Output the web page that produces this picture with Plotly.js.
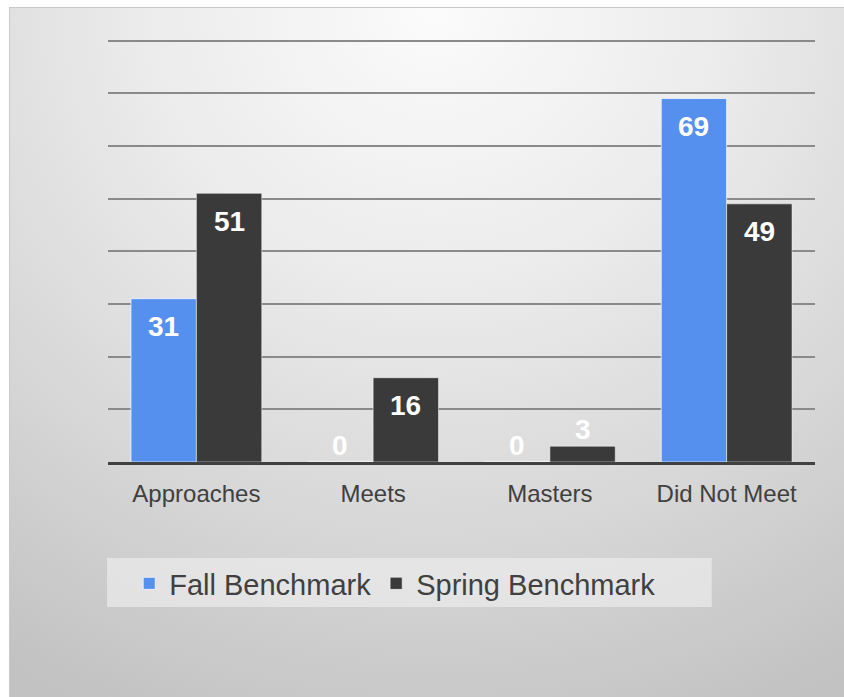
<!DOCTYPE html>
<html>
<head>
<meta charset="utf-8">
<script src="https://cdn.plot.ly/plotly-3.0.1.min.js"></script>
<style>
  html, body { margin: 0; padding: 0; background: #ffffff; }
  #frame {
    position: absolute; left: 9px; top: 7px; width: 850px; height: 700px;
    border: 1px solid #c9c9c9; box-sizing: border-box;
    background: radial-gradient(ellipse 95% 110% at 50% 0%, #fbfbfb 0%, #ececec 35%, #d6d6d6 70%, #c2c2c2 100%);
  }
  #chart { position: absolute; left: 0; top: 0; width: 844px; height: 697px; }
</style>
</head>
<body>
<div id="frame"></div>
<div id="chart"></div>
<script>
const categories = ["Approaches", "Meets", "Masters", "Did Not Meet"];
const fallValues = [31, 0, 0, 69];
const springValues = [51, 16, 3, 49];
const seriesNames = ["Fall Benchmark", "Spring Benchmark"];

const BARGAP = 0.26;
const groupOffset = (1 - BARGAP) / 4;  // half of one bar's width in category units

const labelFont = { family: "Liberation Sans, Arial, sans-serif", size: 28, color: "#ffffff", weight: "bold" };

const traces = [
  {
    type: "bar", name: seriesNames[0], x: categories, y: fallValues,
    marker: { color: "#5590ef", line: { color: "rgba(255,255,255,0.7)", width: 1 } },
    hoverinfo: "skip"
  },
  {
    type: "bar", name: seriesNames[1], x: categories, y: springValues,
    marker: { color: "#3a3a3a", line: { color: "rgba(255,255,255,0.5)", width: 1 } },
    hoverinfo: "skip"
  }
];

function labels(vals, sign) {
  return vals.map((v, i) => ({
    x: i + sign * groupOffset, y: v, xref: "x", yref: "y",
    text: String(v), showarrow: false, font: labelFont,
    yanchor: "middle", yshift: v < 8 ? 17 : -28
  }));
}

const layout = {
  width: 844, height: 697,
  paper_bgcolor: "rgba(0,0,0,0)", plot_bgcolor: "rgba(0,0,0,0)",
  margin: { l: 108, r: 29, t: 30, b: 235 },
  barmode: "group", bargap: BARGAP, bargroupgap: 0,
  font: { family: "Liberation Sans, Arial, sans-serif", color: "#404040" },
  xaxis: {
    type: "category", showgrid: false, showline: true, linecolor: "#404040", linewidth: 3,
    ticks: "", ticklabelstandoff: 8, range: [-0.5, 3.5],
    tickfont: { size: 24, color: "#404040" }, fixedrange: true
  },
  yaxis: {
    range: [0, 82], tickvals: [10, 20, 30, 40, 50, 60, 70, 80], showgrid: true, gridcolor: "#8a8a8a", gridwidth: 2,
    showticklabels: false, zeroline: false, showline: false, ticks: "", fixedrange: true
  },
  showlegend: true,
  legend: {
    orientation: "h", x: 0.03, y: -0.2275 * 422 / 432, xanchor: "left", yanchor: "top",
    bgcolor: "rgba(0,0,0,0)", font: { size: 29, color: "#404040" },
    traceorder: "normal", itemwidth: 30
  },
  annotations: labels(fallValues, -1).concat(labels(springValues, 1)),
  shapes: [
    { type: "rect", xref: "paper", yref: "paper", layer: "below",
      x0: -0.0014, x1: 0.854, y0: -145 / 432, y1: -96 / 432,
      fillcolor: "rgba(238,238,238,0.65)", line: { width: 0 } }
  ]
};

Plotly.newPlot("chart", traces, layout, { displayModeBar: false, staticPlot: true });
</script>
</body>
</html>
